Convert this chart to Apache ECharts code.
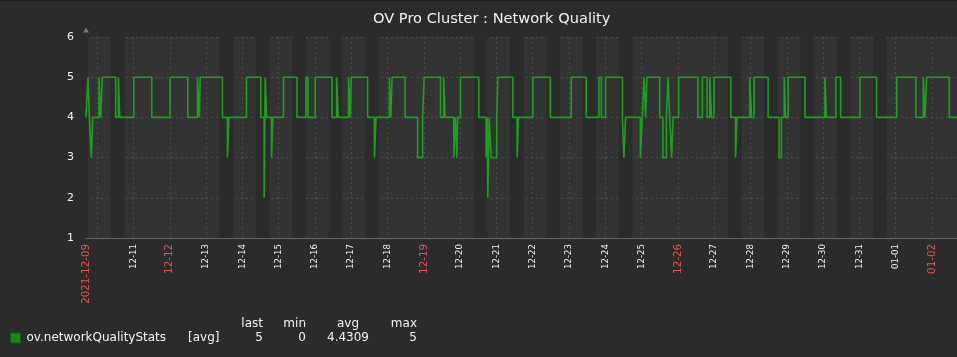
<!DOCTYPE html>
<html><head><meta charset="utf-8">
<script src="https://cdn.jsdelivr.net/npm/echarts@6/dist/echarts.min.js"></script>
<style>html,body{margin:0;padding:0;background:#2b2b2b;overflow:hidden}#c{width:957px;height:357px}</style>
</head><body><div id="c"></div>
<script>
// ---- data ----
const chartTitle = 'OV Pro Cluster : Network Quality';
const seriesName = 'ov.networkQualityStats';
const startLabel = '2021-12-09';
// hours after 2021-12-09 00:00
const rangeStartHour = 16.58;
const rangeEndHour = 592.58;
const dayLabels = ['12-10','12-11','12-12','12-13','12-14','12-15','12-16','12-17','12-18','12-19','12-20','12-21',
  '12-22','12-23','12-24','12-25','12-26','12-27','12-28','12-29','12-30','12-31','01-01','01-02'];
const hiddenDayLabels = ['12-10'];
const sundayLabels = ['12-12','12-19','12-26','01-02'];
const workDayIndex = [0,1,4,5,6,7,8,11,12,13,14,15,18,19,20,21,22]; // days after 2021-12-09
const workHours = [9, 18];
const changeHours = [
  16.6,17.9,18.8,20.1,21.0,25.2,26.3,27.4,36.2,38.0,38.9,48.2,60.1,72.2,83.9,90.3,91.6,92.1,106.8,110.1,111.1,
  122.7,132.2,134.4,135.1,136.0,139.3,140.2,147.2,156.1,162.0,163.4,168.2,179.3,182.3,183.4,190.2,191.4,192.0,202.8,207.3,208.4,
  217.2,218.1,219.0,227.6,235.9,239.2,240.2,251.0,253.1,254.1,259.8,260.9,261.8,262.4,264.2,276.3,281.2,281.9,282.3,283.2,284.5,288.2,288.9,298.8,301.7,302.6,
  312.1,323.6,337.5,347.4,355.8,357.4,360.2,371.3,372.3,373.4,383.2,384.5,385.6,386.7,387.5,396.0,398.1,400.4,
  401.5,402.6,403.9,404.8,408.5,421.3,424.2,427.3,429.1,430.2,431.9,443.0,446.1,447.1,455.5,456.7,458.4,467.7,474.9,476.5,478.3,479.2,480.9,492.0,
  505.2,506.3,512.5,515.6,528.4,539.4,552.7,565.4,570.3,571.4,572.5,587.5,592.58];
const changeValues = [
  4,5,4,3,4,5,4,5,4,5,4,5,4,5,4,5,4,5,4,3,4,
  5,4,2,5,4,3,4,5,4,5,4,5,4,5,4,5,4,5,4,3,4,
  5,4,5,4,3,4,5,4,5,4,3,4,3,4,5,4,3,4,2,4,3,4,5,4,3,4,
  5,4,5,4,5,4,5,4,3,4,3,4,5,4,5,4,3,4,
  5,4,3,4,5,4,5,4,5,4,5,4,3,4,5,4,5,4,3,4,5,4,5,4,
  5,4,5,4,5,4,5,4,5,4,5,4,4];
const yMin = 1, yMax = 6;
const statFunc = '[avg]';
const statHeaders = ['last','min','avg','max'];
const statValues = ['5','0','4.4309','5'];

// ---- build ----
const FONT = 'DejaVu Sans';
const TEXT = '#F2F2F2', RED = '#E45656';
// explicit step table: each change becomes a vertical edge
const seriesData = [];
changeHours.forEach((h, i) => {
  if (i > 0) seriesData.push([h, changeValues[i - 1]]);
  seriesData.push([h, changeValues[i]]);
});
const tickHours = dayLabels.map((d, i) => 24 * (i + 1));
const labelMap = {};
labelMap[rangeStartHour.toFixed(2)] = '{r|' + startLabel + '}';
dayLabels.forEach((d, i) => {
  if (hiddenDayLabels.includes(d)) return;
  labelMap[tickHours[i].toFixed(2)] = sundayLabels.includes(d) ? '{r|' + d + '}' : '{w|' + d + '}';
});
const labelHours = [rangeStartHour].concat(tickHours.filter((h, i) => !hiddenDayLabels.includes(dayLabels[i])));
const workAreas = workDayIndex.map(d => [
  { xAxis: Math.max(rangeStartHour, d * 24 + workHours[0]) },
  { xAxis: Math.min(rangeEndHour, d * 24 + workHours[1]) }
]).filter(a => a[1].xAxis > a[0].xAxis);

const statRight = [263, 306, 369, 417];
const headRight = [263, 306, 359, 417];
const graphics = [
  { type: 'rect', shape: { x: 0, y: 0, width: 957, height: 1 }, style: { fill: '#1c1c1c' }, silent: true },
  { type: 'text', x: 188, y: 338, style: { text: statFunc, fill: TEXT, font: '12px "' + FONT + '"', textVerticalAlign: 'middle' } }
];
statHeaders.forEach((t, i) => graphics.push({ type: 'text', x: headRight[i], y: 324,
  style: { text: t, fill: TEXT, font: '12px "' + FONT + '"', textAlign: 'right', textVerticalAlign: 'middle' } }));
statValues.forEach((t, i) => graphics.push({ type: 'text', x: statRight[i], y: 338,
  style: { text: t, fill: TEXT, font: '12px "' + FONT + '"', textAlign: 'right', textVerticalAlign: 'middle' } }));

const chart = echarts.init(document.getElementById('c'), null, { renderer: 'canvas' });
chart.setOption({
  animation: false,
  backgroundColor: '#2b2b2b',
  title: { text: chartTitle, left: 373, top: 12, padding: 0,
    textStyle: { color: TEXT, fontSize: 14.6, fontWeight: 'normal', fontFamily: FONT } },
  legend: { left: 10, top: 332, padding: 0, icon: 'rect', itemWidth: 10, itemHeight: 10, itemGap: 6,
    textStyle: { color: TEXT, fontSize: 12, fontFamily: FONT, padding: [0, 0, 0, 1] },
    data: [{ name: seriesName, itemStyle: { color: '#1A8A11', borderColor: '#0f5c0a', borderWidth: 1 } }] },
  grid: { left: 86, right: 0, top: 37, bottom: 119, show: true, backgroundColor: '#333333', borderWidth: 0 },
  xAxis: {
    type: 'value', min: rangeStartHour, max: rangeEndHour,
    axisLine: { show: true, lineStyle: { color: '#666666', width: 1 } },
    axisTick: { show: false, customValues: tickHours },
    splitLine: { show: true, lineStyle: { color: '#4c4c4c', width: 1, type: [2, 3] } },
    axisLabel: {
      customValues: labelHours, rotate: 90, margin: 6, fontFamily: FONT,
      formatter: v => labelMap[v.toFixed(2)] || '',
      rich: { r: { color: RED, fontSize: 10.3, fontFamily: FONT }, w: { color: TEXT, fontSize: 8.6, fontFamily: FONT } }
    }
  },
  yAxis: {
    type: 'value', min: yMin, max: yMax, interval: 1,
    axisLine: { show: true, lineStyle: { color: '#777777', width: 1 }, symbol: ['none', 'triangle'], symbolSize: [6, 5], symbolOffset: [0, 7] },
    axisTick: { show: false },
    splitLine: { show: true, lineStyle: { color: '#4c4c4c', width: 1, type: [2, 3] } },
    axisLabel: { color: TEXT, fontSize: 11, fontFamily: FONT, margin: 12 }
  },
  graphic: graphics,
  series: [{
    name: seriesName, type: 'line', data: seriesData, symbol: 'none',
    lineStyle: { color: '#1DA01D', width: 1.6 }, itemStyle: { color: '#1A8A11' },
    markArea: { silent: true, itemStyle: { color: '#2b2b2b' }, data: workAreas }
  }]
});
</script></body></html>
